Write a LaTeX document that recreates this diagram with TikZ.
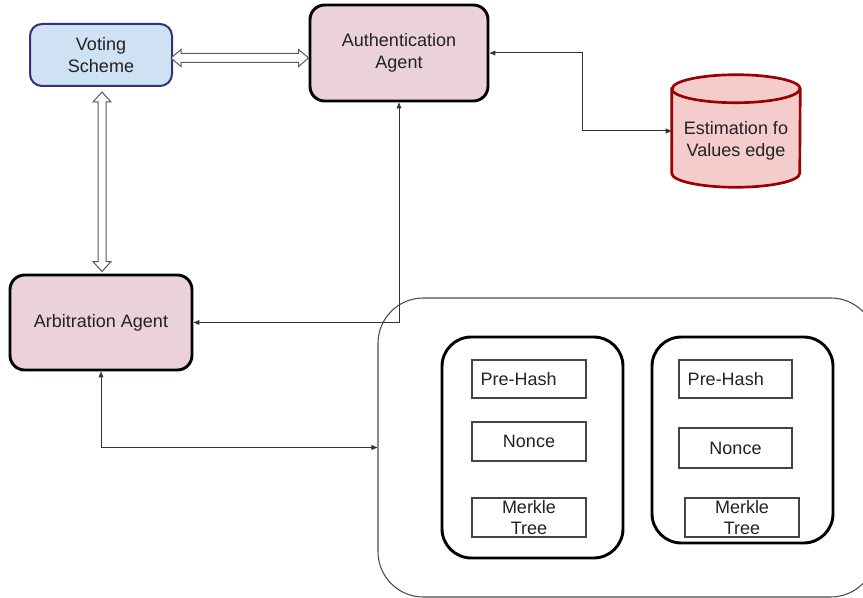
\documentclass[tikz,border=0pt]{standalone}
\usepackage{fontspec}
\setmainfont{Liberation Sans}
\usetikzlibrary{calc,arrows.meta}
\definecolor{pinkf}{HTML}{EAD1DC}
\definecolor{bluef}{HTML}{CFE2F3}
\definecolor{bluel}{HTML}{34307A}
\definecolor{redf}{HTML}{F4CCCC}
\definecolor{redl}{HTML}{990000}
\definecolor{txtcol}{HTML}{222222}
\definecolor{conncol}{HTML}{333333}
\definecolor{hollowcol}{HTML}{5A5A5A}
\definecolor{outercol}{HTML}{4A4A4A}
\definecolor{fieldcol}{HTML}{444444}
\begin{document}
\begin{tikzpicture}[x=0.75pt,y=-0.75pt,
  every node/.style={font=\fontsize{13.5}{16}\selectfont, text=txtcol, align=center, inner sep=0pt},
  agent/.style={draw=black, fill=pinkf, line width=2.2pt, rounded corners=11pt},
  voting/.style={draw=bluel, fill=bluef, line width=1.5pt, rounded corners=9pt},
  blockbox/.style={draw=black, line width=2.2pt, rounded corners=22pt, minimum width=135.75pt},
  field/.style={draw=fieldcol, line width=0.8pt, minimum width=85.5pt, minimum height=28.5pt},
  conn/.style={draw=conncol, line width=0.75pt, arrows={Triangle[length=4.5pt,width=3.6pt]-Triangle[length=4.5pt,width=3.6pt]}},
  hollow/.style={draw=hollowcol, fill=white, line width=0.75pt, line join=miter}
]
\useasboundingbox (0,0) rectangle (863,598);
\clip (0,0) rectangle (863,598);

% main nodes
\node[voting, minimum width=106.5pt, minimum height=46.5pt] (vs) at (101,55) {Voting\\Scheme};
\node[agent, minimum width=133.5pt, minimum height=72pt] (auth) at (399,53) {Authentication\\Agent};
\node[agent, minimum width=136.5pt, minimum height=71.25pt] (arb) at (101,322.5) {Arbitration Agent};

% cylinder
\node[minimum width=96pt, minimum height=84pt] (est) at (736,131) {};
\coordinate (ctl) at ($(est.north west)+(0,14)$);
\coordinate (ctr) at ($(est.north east)+(0,14)$);
\coordinate (cbl) at ($(est.south west)+(0,-14)$);
\path[fill=redf, draw=redl, line width=2pt] (ctl) -- (cbl)
  arc[start angle=180, end angle=360, x radius=48pt, y radius=10.5pt]
  -- (ctr) arc[start angle=0, end angle=180, x radius=48pt, y radius=10.5pt] -- cycle;
\draw[redl, line width=2pt] (ctl) arc[start angle=180, end angle=360, x radius=48pt, y radius=10.5pt];
\node (estt) at ($(est.center)+(0,10)$) {Estimation fo\\Values edge};

% container
\node[draw=outercol, line width=0.8pt, rounded corners=34pt, minimum width=373.5pt, minimum height=224.25pt] (chain) at (627,447.5) {};

% blocks
\node[blockbox, minimum height=165.75pt] (b1) at (532.5,447.5) {};
\node[blockbox, minimum height=154.5pt] (b2) at (742.5,440) {};

\node[field] (ph1) at (529,379) {};
\node[anchor=west] (ph1t) at ($(ph1.west)+(9,0)$) {Pre-Hash};
\node[field, minimum height=29.25pt] (n1) at (529,441.5) {Nonce};
\node[field, minimum height=29.25pt] (m1) at (529,517.5) {Merkle\\Tree};

\node[field, minimum width=84.75pt] (ph2) at (735.5,379) {};
\node[anchor=west] (ph2t) at ($(ph2.west)+(9,0)$) {Pre-Hash};
\node[field, minimum width=84.75pt, minimum height=30pt] (n2) at (735.5,448) {Nonce};
\node[field, minimum height=29.25pt] (m2) at (742,517.5) {Merkle\\Tree};

% thin connectors
\draw[conn] (auth.south) |- (arb.east);
\draw[conn] (arb.south) |- (chain.west);
\draw[conn] (auth.east) -- ++(93,0) |- (est.west);

% hollow double arrows
\coordinate (h1) at ($(vs.east)+(-2,3)$);
\coordinate (h2) at (auth.west |- h1);
\draw[hollow] (h1) -- ($(h1)+(10,-8.5)$) -- ($(h1)+(10,-4.5)$) -- ($(h2)+(-10,-4.5)$) -- ($(h2)+(-10,-8.5)$)
  -- (h2) -- ($(h2)+(-10,8.5)$) -- ($(h2)+(-10,4.5)$) -- ($(h1)+(10,4.5)$) -- ($(h1)+(10,8.5)$) -- cycle;

\coordinate (v1) at ($(vs.south)+(1,5)$);
\coordinate (v2) at ($(v1 |- arb.north)+(0,-2)$);
\draw[hollow] (v1) -- ($(v1)+(9,10)$) -- ($(v1)+(4,10)$) -- ($(v2)+(4,-10)$) -- ($(v2)+(9,-10)$)
  -- (v2) -- ($(v2)+(-9,-10)$) -- ($(v2)+(-4,-10)$) -- ($(v1)+(-4,10)$) -- ($(v1)+(-9,10)$) -- cycle;
\end{tikzpicture}
\end{document}
